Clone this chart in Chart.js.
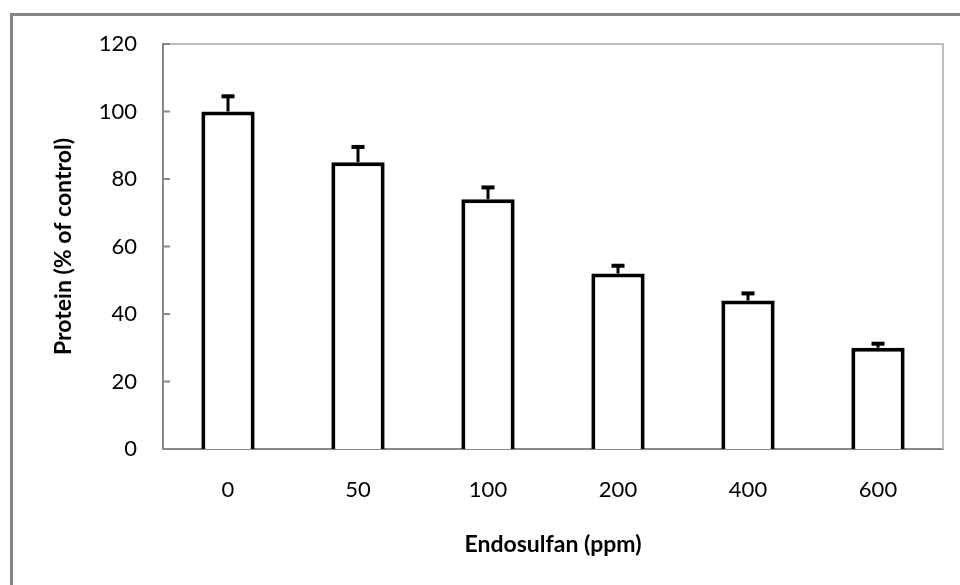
<!DOCTYPE html>
<html lang="en">

<head>
    <meta charset="UTF-8">
    <title>Protein vs Endosulfan</title>
    <script src="https://cdn.jsdelivr.net/npm/chart.js@4.4.1/dist/chart.umd.min.js"></script>
    <style>
        html, body { margin: 0; padding: 0; background: #fff; overflow: hidden; }
        #wrap { position: relative; width: 960px; height: 585px; }
        #frame {
            position: absolute; left: 10px; top: 13px; width: 1000px; height: 700px;
            border-left: 3px solid #858585; border-top: 3px solid #858585;
            pointer-events: none;
        }
        #chart { position: absolute; left: 0; top: 0; }
    </style>
</head>

<body>
    <div id="wrap">
        <canvas id="chart" width="960" height="585"></canvas>
        <div id="frame"></div>
    </div>

    <script>
        const doses = ["0", "50", "100", "200", "400", "600"];
        const protein = [100, 85, 74, 52, 44, 30];
        const proteinErr = [4.5, 4.5, 3.5, 2.3, 2.1, 1.2];
        const yTicks = [0, 20, 40, 60, 80, 100, 120];

        const FONT = "Lato, 'Open Sans', sans-serif";
        const axisGrey = "#878787";

        // upper error bars with cap
        const errorBars = {
            id: "errorBars",
            afterDatasetsDraw(chart) {
                const ctx = chart.ctx;
                const yScale = chart.scales.y;
                const meta = chart.getDatasetMeta(0);
                ctx.save();
                ctx.strokeStyle = "#000";
                meta.data.forEach((bar, i) => {
                    const yTop = yScale.getPixelForValue(protein[i]);
                    const yErr = yScale.getPixelForValue(protein[i] + proteinErr[i]);
                    ctx.lineWidth = 3;
                    ctx.beginPath();
                    ctx.moveTo(bar.x, yTop);
                    ctx.lineTo(bar.x, yErr);
                    ctx.stroke();
                    ctx.lineWidth = 4;
                    ctx.beginPath();
                    ctx.moveTo(bar.x - 6.5, yErr);
                    ctx.lineTo(bar.x + 6.5, yErr);
                    ctx.stroke();
                });
                ctx.restore();
            }
        };

        // light plot frame on top/right + inward ticks on the y axis
        const plotFrame = {
            id: "plotFrame",
            beforeDatasetsDraw(chart) {
                const { ctx, chartArea } = chart;
                const yScale = chart.scales.y;
                ctx.save();
                ctx.strokeStyle = "#bdbdbd";
                ctx.lineWidth = 2;
                ctx.beginPath();
                ctx.moveTo(chartArea.left, chartArea.top);
                ctx.lineTo(chartArea.right, chartArea.top);
                ctx.lineTo(chartArea.right, chartArea.bottom);
                ctx.stroke();

                ctx.strokeStyle = axisGrey;
                yTicks.forEach(v => {
                    const y = yScale.getPixelForValue(v);
                    ctx.beginPath();
                    ctx.moveTo(chartArea.left, y);
                    ctx.lineTo(chartArea.left + 7, y);
                    ctx.stroke();
                });
                ctx.restore();
            }
        };

        new Chart(document.getElementById("chart"), {
            type: "bar",
            data: {
                labels: doses,
                datasets: [{
                    data: protein,
                    backgroundColor: "#ffffff",
                    borderColor: "#000000",
                    borderWidth: 4,
                    categoryPercentage: 1,
                    barPercentage: 0.41
                }]
            },
            options: {
                responsive: false,
                animation: false,
                devicePixelRatio: 1,
                layout: { padding: { top: 44, right: 17, left: 0, bottom: 0 } },
                plugins: {
                    legend: { display: false },
                    tooltip: { enabled: false }
                },
                scales: {
                    x: {
                        grid: { display: false, drawTicks: false },
                        border: { display: true, color: axisGrey, width: 2 },
                        ticks: {
                            color: "#000",
                            padding: 28,
                            font: { family: FONT, size: 22 }
                        },
                        title: {
                            display: true,
                            text: "Endosulfan (ppm)",
                            color: "#000",
                            font: { family: FONT, size: 23, weight: "bold" },
                            padding: { top: 0, bottom: 27 }
                        },
                        afterFit: scale => { scale.height = 136; }
                    },
                    y: {
                        min: 0,
                        max: 120,
                        grid: { display: false, drawTicks: false },
                        border: { display: true, color: axisGrey, width: 2 },
                        ticks: {
                            stepSize: 20,
                            color: "#000",
                            padding: 26,
                            font: { family: FONT, size: 22 }
                        },
                        title: {
                            display: true,
                            text: "Protein (% of control)",
                            color: "#000",
                            font: { family: FONT, size: 23, weight: "bold" },
                            padding: { top: 50, bottom: 0 }
                        },
                        afterFit: scale => { scale.width = 163; }
                    }
                }
            },
            plugins: [plotFrame, errorBars]
        });
    </script>
</body>

</html>
